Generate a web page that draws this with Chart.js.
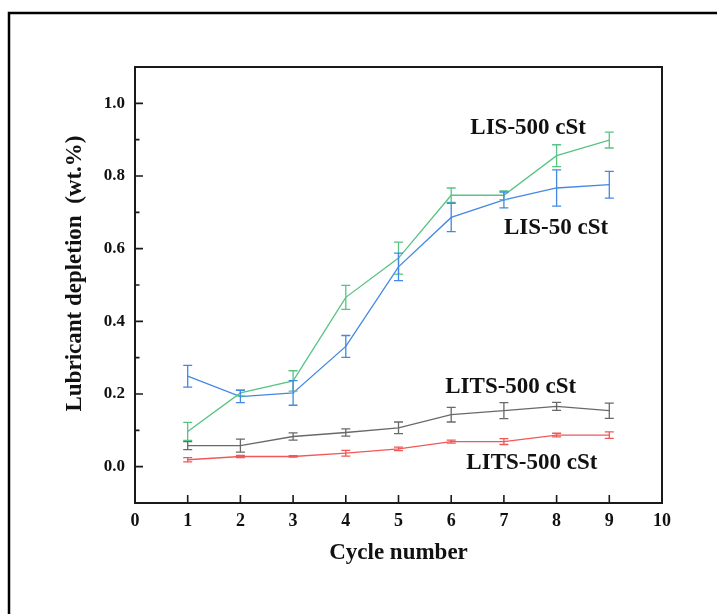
<!DOCTYPE html>
<html>
<head>
<meta charset="utf-8">
<title>Lubricant depletion</title>
<script src="https://cdn.jsdelivr.net/npm/chart.js@4/dist/chart.umd.min.js"></script>
<style>
  html, body { margin: 0; padding: 0; background: #fff; }
  #wrap { position: relative; width: 717px; height: 614px; }
</style>
</head>
<body>
<div id="wrap"><canvas id="depletion"></canvas></div>
<script>
// cycle numbers and depletion (wt.%) with standard deviations
var cycles = [1, 2, 3, 4, 5, 6, 7, 8, 9];

var lis500 = [0.097, 0.203, 0.236, 0.466, 0.574, 0.747, 0.747, 0.856, 0.899];
var lis500Err = [0.025, 0.008, 0.028, 0.033, 0.044, 0.020, 0.012, 0.030, 0.022];

var lis50 = [0.249, 0.193, 0.203, 0.331, 0.550, 0.686, 0.734, 0.767, 0.776];
var lis50Err = [0.030, 0.017, 0.034, 0.030, 0.038, 0.039, 0.022, 0.050, 0.037];

var lits500a = [0.058, 0.058, 0.083, 0.094, 0.107, 0.143, 0.154, 0.166, 0.154];
var lits500aErr = [0.011, 0.018, 0.010, 0.010, 0.016, 0.020, 0.022, 0.011, 0.021];

var lits500b = [0.019, 0.028, 0.028, 0.037, 0.049, 0.069, 0.069, 0.087, 0.087];
var lits500bErr = [0.006, 0.003, 0.002, 0.008, 0.005, 0.004, 0.008, 0.005, 0.009];

var xTicks = [0, 1, 2, 3, 4, 5, 6, 7, 8, 9, 10];
var yTicks = [0.0, 0.2, 0.4, 0.6, 0.8, 1.0];
var yMinor = [0.1, 0.3, 0.5, 0.7, 0.9];

// curve names and where they sit (in axis units)
var seriesNames = ['LIS-500 cSt', 'LIS-50 cSt', 'LITS-500 cSt', 'LITS-500 cSt'];
var nameX = [7.46, 7.99, 7.13, 7.53];
var nameY = [0.931, 0.658, 0.218, 0.011];

var serif = "'Liberation Serif', 'Times New Roman', serif";

function pts(vals) {
  var out = [];
  for (var i = 0; i < cycles.length; i++) {
    out.push({x: cycles[i], y: vals[i]});
  }
  return out;
}

function series(vals, errs, color) {
  return {
    data: pts(vals),
    errors: errs,
    borderColor: color,
    borderWidth: 1.3,
    pointRadius: 0,
    fill: false,
    tension: 0
  };
}

// white page with the outer frame
var pageFrame = {
  id: 'pageFrame',
  beforeDraw: function(chart) {
    var ctx = chart.ctx;
    ctx.save();
    ctx.fillStyle = '#fff';
    ctx.fillRect(0, 0, chart.width, chart.height);
    ctx.strokeStyle = '#000';
    ctx.lineWidth = 2.5;
    ctx.beginPath();
    ctx.moveTo(9, chart.height + 5);
    ctx.lineTo(9, 13);
    ctx.lineTo(chart.width + 5, 13);
    ctx.stroke();
    ctx.restore();
  }
};

// vertical error bars with caps
var errorBars = {
  id: 'errorBars',
  afterDatasetsDraw: function(chart) {
    var ctx = chart.ctx;
    var ys = chart.scales.y;
    ctx.save();
    chart.data.datasets.forEach(function(ds, i) {
      var meta = chart.getDatasetMeta(i);
      ctx.strokeStyle = ds.borderColor;
      ctx.lineWidth = 1.3;
      meta.data.forEach(function(p, j) {
        var v = ds.data[j].y, e = ds.errors[j];
        var top = ys.getPixelForValue(v + e);
        var bot = ys.getPixelForValue(v - e);
        ctx.beginPath();
        ctx.moveTo(p.x, top); ctx.lineTo(p.x, bot);
        ctx.moveTo(p.x - 4.5, top); ctx.lineTo(p.x + 4.5, top);
        ctx.moveTo(p.x - 4.5, bot); ctx.lineTo(p.x + 4.5, bot);
        ctx.stroke();
      });
    });
    ctx.restore();
  }
};

// closed axis box, inward ticks and the curve names
var boxAndTicks = {
  id: 'boxAndTicks',
  afterDraw: function(chart) {
    var ctx = chart.ctx;
    var a = chart.chartArea;
    var xs = chart.scales.x, ys = chart.scales.y;
    ctx.save();
    ctx.strokeStyle = '#1a1a1a';
    ctx.lineWidth = 2;
    ctx.strokeRect(a.left, a.top, a.right - a.left, a.bottom - a.top);

    ctx.lineWidth = 1.6;
    ctx.beginPath();
    xTicks.forEach(function(t) {
      if (t <= xs.min || t >= xs.max) return;
      var px = xs.getPixelForValue(t);
      ctx.moveTo(px, a.bottom); ctx.lineTo(px, a.bottom - 8);
    });
    yTicks.forEach(function(t) {
      var py = ys.getPixelForValue(t);
      ctx.moveTo(a.left, py); ctx.lineTo(a.left + 8, py);
    });
    yMinor.forEach(function(t) {
      var py = ys.getPixelForValue(t);
      ctx.moveTo(a.left, py); ctx.lineTo(a.left + 4.5, py);
    });
    ctx.stroke();

    ctx.fillStyle = '#111';
    ctx.font = 'bold 23px ' + serif;
    ctx.textAlign = 'center';
    ctx.textBaseline = 'middle';
    for (var i = 0; i < seriesNames.length; i++) {
      ctx.fillText(seriesNames[i], xs.getPixelForValue(nameX[i]), ys.getPixelForValue(nameY[i]));
    }
    ctx.restore();
  }
};

var config = {
  type: 'line',
  data: {
    datasets: [
      series(lis500, lis500Err, 'rgb(88,196,132)'),
      series(lis50, lis50Err, 'rgb(66,136,228)'),
      series(lits500a, lits500aErr, 'rgb(105,105,105)'),
      series(lits500b, lits500bErr, 'rgb(240,88,88)')
    ]
  },
  options: {
    responsive: true,
    maintainAspectRatio: false,
    animation: false,
    layout: { padding: { left: 0, top: 67, right: 55, bottom: 0 } },
    plugins: {
      legend: { display: false },
      tooltip: { enabled: false }
    },
    scales: {
      x: {
        type: 'linear',
        min: 0,
        max: 10,
        grid: { display: false, drawTicks: false },
        border: { display: false },
        afterBuildTicks: function(scale) {
          scale.ticks = xTicks.map(function(v) { return {value: v}; });
        },
        afterFit: function(scale) { scale.height = 111; },
        ticks: {
          padding: 8,
          color: '#111',
          font: { family: serif, size: 18, weight: 'bold' },
          callback: function(v) { return String(v); }
        },
        title: {
          display: true,
          text: 'Cycle number',
          color: '#111',
          font: { family: serif, size: 23, weight: 'bold' },
          padding: { top: 0, bottom: 47 }
        }
      },
      y: {
        min: -0.1,
        max: 1.1,
        grid: { display: false, drawTicks: false },
        border: { display: false },
        afterBuildTicks: function(scale) {
          scale.ticks = yTicks.map(function(v) { return {value: v}; });
        },
        afterFit: function(scale) { scale.width = 135; },
        ticks: {
          padding: 10,
          color: '#111',
          font: { family: serif, size: 17, weight: 'bold' },
          callback: function(v) { return v.toFixed(1); }
        },
        title: {
          display: true,
          text: '    Lubricant depletion  (wt.%)',
          color: '#111',
          font: { family: serif, size: 23, weight: 'bold' },
          padding: { top: 61, bottom: 0 }
        }
      }
    }
  },
  plugins: [pageFrame, errorBars, boxAndTicks]
};

var ctx = document.getElementById('depletion');
var myChart = new Chart(ctx, config);
</script>
</body>
</html>
